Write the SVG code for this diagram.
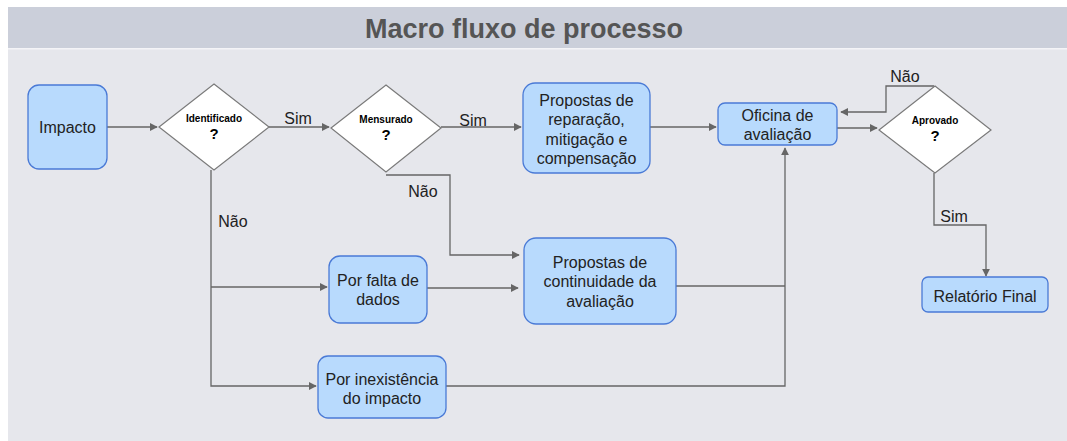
<svg xmlns="http://www.w3.org/2000/svg" width="1067" height="441" viewBox="0 0 1067 441">
<style>
.t{font-family:"Liberation Sans",Arial,sans-serif;fill:#222;font-size:16px;text-anchor:middle}
.q{font-family:"Liberation Sans",Arial,sans-serif;fill:#000;font-weight:bold;text-anchor:middle}
.box{fill:#b8dafd;stroke:#4a7ad6;stroke-width:1.3}
.dia{fill:#fff;stroke:#7a7a7a;stroke-width:1.2}
.c{fill:none;stroke:#666;stroke-width:1.3}
</style>
<defs>
<marker id="a" viewBox="0 0 10 10" refX="9" refY="5" markerWidth="8" markerHeight="8" markerUnits="userSpaceOnUse" orient="auto">
<path d="M0,0 L10,5 L0,10 z" fill="#666"/>
</marker>
</defs>
<rect x="0" y="0" width="1067" height="441" fill="#fff"/>
<rect x="8" y="7" width="1059" height="434" fill="#e6e7ec"/>
<rect x="8" y="7" width="1059" height="41" fill="#cbcfda"/>
<rect x="8" y="48" width="1059" height="1.5" fill="#f4f4f7"/>
<text x="524" y="38" font-family="'Liberation Sans',Arial,sans-serif" font-weight="bold" font-size="27" fill="#555" text-anchor="middle">Macro fluxo de processo</text>

<g id="connectors">
<path class="c" d="M107,127 H157" marker-end="url(#a)"/>
<path class="c" d="M269,127 H329" marker-end="url(#a)"/>
<path class="c" d="M441,127 H521" marker-end="url(#a)"/>
<path class="c" d="M650,127 H716" marker-end="url(#a)"/>
<path class="c" d="M386,175 H450 V255 H519" marker-end="url(#a)"/>
<path class="c" d="M211,170 V386 H316" marker-end="url(#a)"/>
<path class="c" d="M211,287 H327" marker-end="url(#a)"/>
<path class="c" d="M427,288 H518" marker-end="url(#a)"/>
<path class="c" d="M676,286 H785"/>
<path class="c" d="M446,386 H785 V148" marker-end="url(#a)"/>
<path class="c" d="M837,128 H877" marker-end="url(#a)"/>
<path class="c" d="M934,86 H886 V112 H841" marker-end="url(#a)"/>
<path class="c" d="M934,173 V225 H986 V276" marker-end="url(#a)"/>
<text class="t" x="298" y="124">Sim</text>
<text class="t" x="473" y="126">Sim</text>
<text class="t" x="423" y="197">Não</text>
<text class="t" x="233" y="227">Não</text>
<text class="t" x="905" y="82">Não</text>
<text class="t" x="954" y="222">Sim</text>
</g>

<g id="impacto">
<rect class="box" x="28" y="85" width="79" height="84" rx="11"/>
<text class="t" x="67.5" y="133">Impacto</text>
</g>

<g id="identificado">
<polygon class="dia" points="214,84 269,127 214,170 159,127"/>
<text class="q" x="214" y="122" font-size="10">Identificado</text>
<text class="q" x="214" y="139" font-size="15">?</text>
</g>

<g id="mensurado">
<polygon class="dia" points="386,85 441,128 386,172 331,128"/>
<text class="q" x="386" y="123" font-size="10">Mensurado</text>
<text class="q" x="386" y="140" font-size="15">?</text>
</g>

<g id="propostas-reparacao">
<rect class="box" x="523" y="83" width="127" height="90" rx="12"/>
<text class="t" x="586.5" y="106">Propostas de</text>
<text class="t" x="586.5" y="125">reparação,</text>
<text class="t" x="586.5" y="145">mitigação e</text>
<text class="t" x="586.5" y="164">compensação</text>
</g>

<g id="propostas-continuidade">
<rect class="box" x="524" y="238" width="152" height="86" rx="12"/>
<text class="t" x="600" y="268">Propostas de</text>
<text class="t" x="600" y="287">continuidade da</text>
<text class="t" x="600" y="307">avaliação</text>
</g>

<g id="por-falta">
<rect class="box" x="329" y="256" width="98" height="67" rx="11"/>
<text class="t" x="378" y="286">Por falta de</text>
<text class="t" x="378" y="305">dados</text>
</g>

<g id="por-inexistencia">
<rect class="box" x="318" y="356" width="128" height="62" rx="10"/>
<text class="t" x="382" y="385">Por inexistência</text>
<text class="t" x="382" y="404">do impacto</text>
</g>

<g id="oficina">
<rect class="box" x="718" y="103" width="119" height="42" rx="7"/>
<text class="t" x="777.5" y="121">Oficina de</text>
<text class="t" x="777.5" y="140">avaliação</text>
</g>

<g id="aprovado">
<polygon class="dia" points="935,86 991,130 935,173 879,130"/>
<text class="q" x="935" y="124" font-size="10">Aprovado</text>
<text class="q" x="935" y="141" font-size="15">?</text>
</g>

<g id="relatorio">
<rect class="box" x="922" y="277" width="126" height="35" rx="6"/>
<text class="t" x="985" y="302">Relatório Final</text>
</g>
</svg>
